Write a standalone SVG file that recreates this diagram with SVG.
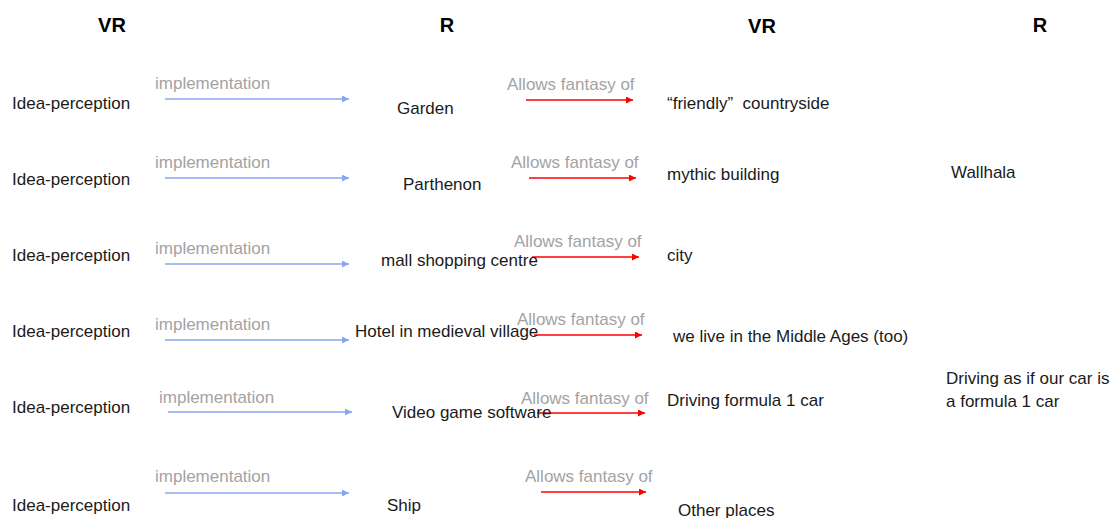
<svg xmlns="http://www.w3.org/2000/svg" width="1110" height="518" viewBox="0 0 1110 518">
  <style>
    text { font-family: "Liberation Sans", Arial, sans-serif; font-size: 17px; fill: #1a1a1a; }
    .head { font-size: 20px; font-weight: bold; text-anchor: middle; fill: #000; }
    .lbl { fill: #a3a3a3; }
    .impl { stroke: #8aa4f0; stroke-width: 1.3; fill: none; marker-end: url(#headBlue); }
    .fant { stroke: #ff0000; stroke-width: 1.3; fill: none; marker-end: url(#headRed); }
  </style>
  <defs>
    <marker id="headBlue" viewBox="0 0 10 10" refX="10" refY="5" markerWidth="7" markerHeight="7" markerUnits="userSpaceOnUse" orient="auto">
      <path d="M0,0 L10,5 L0,10 Z" fill="#8aa4f0"/>
    </marker>
    <marker id="headRed" viewBox="0 0 10 10" refX="10" refY="5" markerWidth="7" markerHeight="7" markerUnits="userSpaceOnUse" orient="auto">
      <path d="M0,0 L10,5 L0,10 Z" fill="#ff0000"/>
    </marker>
  </defs>
  <rect width="1110" height="518" fill="#ffffff"/>

  <!-- column headings -->
  <g id="headings">
    <text class="head" x="112" y="32">VR</text>
    <text class="head" x="447" y="32">R</text>
    <text class="head" x="762" y="33">VR</text>
    <text class="head" x="1040" y="32">R</text>
  </g>

  <!-- connectors -->
  <g id="connectors">
    <line class="impl" x1="165" y1="99" x2="349" y2="99"/>
    <line class="impl" x1="165" y1="178" x2="349" y2="178"/>
    <line class="impl" x1="165" y1="264" x2="349" y2="264"/>
    <line class="impl" x1="165" y1="340" x2="349" y2="340"/>
    <line class="impl" x1="168" y1="412" x2="352" y2="412"/>
    <line class="impl" x1="165" y1="493" x2="349" y2="493"/>

    <line class="fant" x1="526" y1="100" x2="633" y2="100"/>
    <line class="fant" x1="529" y1="178" x2="636" y2="178"/>
    <line class="fant" x1="532" y1="257" x2="639" y2="257"/>
    <line class="fant" x1="534" y1="335" x2="642" y2="335"/>
    <line class="fant" x1="537" y1="413" x2="645" y2="413"/>
    <line class="fant" x1="541" y1="492" x2="646" y2="492"/>
  </g>

  <!-- connector labels -->
  <g id="connector-labels">
    <text class="lbl" x="155" y="89">implementation</text>
    <text class="lbl" x="155" y="168">implementation</text>
    <text class="lbl" x="155" y="254">implementation</text>
    <text class="lbl" x="155" y="330">implementation</text>
    <text class="lbl" x="159" y="403">implementation</text>
    <text class="lbl" x="155" y="482">implementation</text>

    <text class="lbl" x="507" y="90">Allows fantasy of</text>
    <text class="lbl" x="511" y="168">Allows fantasy of</text>
    <text class="lbl" x="514" y="247">Allows fantasy of</text>
    <text class="lbl" x="517" y="325">Allows fantasy of</text>
    <text class="lbl" x="521" y="404">Allows fantasy of</text>
    <text class="lbl" x="525" y="482">Allows fantasy of</text>
  </g>

  <!-- ideas -->
  <g id="idea-1"><text x="12" y="109">Idea-perception</text></g>
  <g id="idea-2"><text x="12" y="185">Idea-perception</text></g>
  <g id="idea-3"><text x="12" y="261">Idea-perception</text></g>
  <g id="idea-4"><text x="12" y="337">Idea-perception</text></g>
  <g id="idea-5"><text x="12" y="413">Idea-perception</text></g>
  <g id="idea-6"><text x="12" y="511">Idea-perception</text></g>

  <!-- real implementations -->
  <g id="real-garden"><text x="397" y="114">Garden</text></g>
  <g id="real-parthenon"><text x="403" y="190">Parthenon</text></g>
  <g id="real-mall"><text x="381" y="266">mall shopping centre</text></g>
  <g id="real-hotel"><text x="355" y="337">Hotel in medieval village</text></g>
  <g id="real-videogame"><text x="392" y="418">Video game software</text></g>
  <g id="real-ship"><text x="387" y="511">Ship</text></g>

  <!-- virtual fantasies -->
  <g id="virtual-countryside"><text x="667" y="109" xml:space="preserve">“friendly”  countryside</text></g>
  <g id="virtual-building"><text x="667" y="180">mythic building</text></g>
  <g id="virtual-city"><text x="667" y="261">city</text></g>
  <g id="virtual-middle-ages"><text x="673" y="342">we live in the Middle Ages (too)</text></g>
  <g id="virtual-formula1"><text x="667" y="406">Driving formula 1 car</text></g>
  <g id="virtual-places"><text x="678" y="516">Other places</text></g>

  <!-- real outcomes -->
  <g id="real-wallhala"><text x="951" y="178">Wallhala</text></g>
  <g id="real-driving">
    <text x="946" y="384">Driving as if our car is</text>
    <text x="946" y="407">a formula 1 car</text>
  </g>
</svg>
